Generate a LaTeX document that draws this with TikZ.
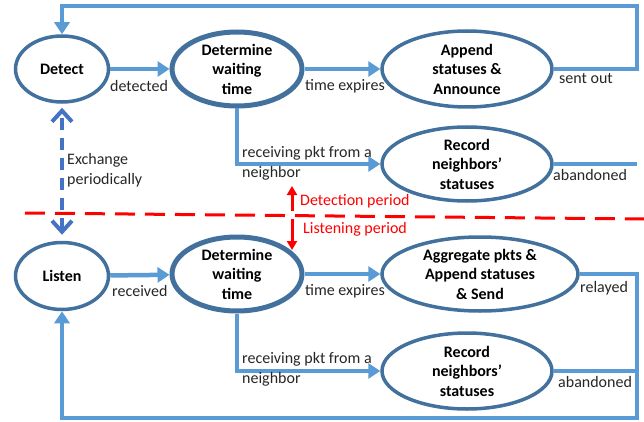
\documentclass[tikz,border=0pt]{standalone}
\usepackage{fontspec}
\setmainfont{Carlito}
\usepackage{tikz}
\usetikzlibrary{arrows.meta,shapes.geometric,calc}
\definecolor{linkblue}{HTML}{5B9BD5}
\definecolor{rimblue}{HTML}{41719C}
\definecolor{xchblue}{HTML}{4472C4}
\definecolor{perred}{HTML}{FF0000}
\definecolor{lbltext}{HTML}{262626}

\begin{document}
\begin{tikzpicture}[x=1pt,y=-1pt,
        state/.style={ellipse,draw=rimblue,line width=3.5pt,fill=white,inner sep=0pt,align=center,text=black,font=\fontsize{16}{19.5}\selectfont\bfseries},
        wait/.style={state,line width=5pt,minimum width=130pt,minimum height=74pt},
        link/.style={linkblue,line width=4.5pt,-{Triangle[width=15pt,length=12pt]}},
        plainlink/.style={linkblue,line width=4.5pt},
        xch/.style={xchblue,line width=4pt,dash pattern=on 12pt off 8pt,{Straight Barb[width=20pt,length=11pt,line width=4pt]}-{Straight Barb[width=20pt,length=11pt,line width=4pt]}},
        perline/.style={perred,line width=3pt,dash pattern=on 20pt off 10pt},
        perarrow/.style={perred,line width=3pt,-{Triangle[width=10pt,length=9pt]}},
        lbl/.style={anchor=west,inner sep=0pt,align=left,text=lbltext,font=\fontsize{16}{20}\selectfont}]
        \useasboundingbox (0,0) rectangle (644,422);
        % detection period
        \node[state,minimum width=93pt,minimum height=66pt] (detect) at (62,69) {Detect};
        \node[wait] (dwtA) at (237,69) {Determine\\waiting\\time};
        \node[state,minimum width=170pt,minimum height=76pt] (append) at (467,69) {Append\\statuses \&\\Announce};
        \node[state,minimum width=170pt,minimum height=74pt] (recA) at (467,164) {Record\\neighbors'\\statuses};
        % listening period
        \node[state,minimum width=93pt,minimum height=67pt] (listen) at (62,276) {Listen};
        \node[wait] (dwtB) at (237,274) {Determine\\waiting\\time};
        \node[state,minimum width=196pt,minimum height=74pt] (aggr) at (480,274) {Aggregate pkts \&\\Append statuses\\\& Send};
        \node[state,minimum width=170pt,minimum height=76pt] (recB) at (467,371) {Record\\neighbors'\\statuses};
        \coordinate (topR) at (637,6);
        \coordinate (botR) at (637,418);
        \draw[link] (detect) -- (dwtA);
        \draw[link] (dwtA) -- (append);
        \draw[link] (dwtA.south) |- (recA.west);
        \draw[link] (append.east) -| (topR) -| (detect.north);
        \draw[plainlink] (recA.east) -- (recA.east -| topR);
        \draw[link] (listen) -- (dwtB);
        \draw[link] (dwtB) -- (aggr.west |- dwtB);
        \draw[link] (dwtB.south) |- (recB.west);
        \draw[link] (aggr.east) -| (botR) -| (listen.south);
        \draw[plainlink] (recB.east) -- (recB.east -| botR);
        \draw[xch,shorten <=6pt,shorten >=4pt] (listen.north) -- (detect.south);
        \node[lbl] (lDetected) at (110,86) {detected};
        \node[lbl] (lExpA) at (305,86) {time expires};
        \node[lbl] (lRecvA) at (242,163) {receiving pkt from a\\neighbor};
        \node[lbl] (lSent) at (559,79) {sent out};
        \node[lbl] (lAbandA) at (553,175) {abandoned};
        \node[lbl] (lExch) at (67,170) {Exchange\\periodically};
        \node[lbl] (lReceived) at (112,291) {received};
        \node[lbl] (lExpB) at (305,291) {time expires};
        \node[lbl] (lRecvB) at (242,369) {receiving pkt from a\\neighbor};
        \node[lbl] (lRelayed) at (580,288) {relayed};
        \node[lbl] (lAbandB) at (558,382) {abandoned};
        % period separator
        \coordinate (perL) at (25,213);
        \coordinate (perR) at (644,219);
        \draw[perline] (perL) -- (perR);
        \coordinate (detS) at (292,211);
        \coordinate (detE) at (292,186);
        \coordinate (lisS) at (292,219);
        \coordinate (lisE) at (292,250);
        \draw[perarrow] (detS) -- (detE);
        \draw[perarrow] (lisS) -- (lisE);
        \node[lbl,text=perred] (lDetPer) at (300,201) {Detection period};
        \node[lbl,text=perred] (lLisPer) at (303,229) {Listening period};
\end{tikzpicture}
\end{document}
